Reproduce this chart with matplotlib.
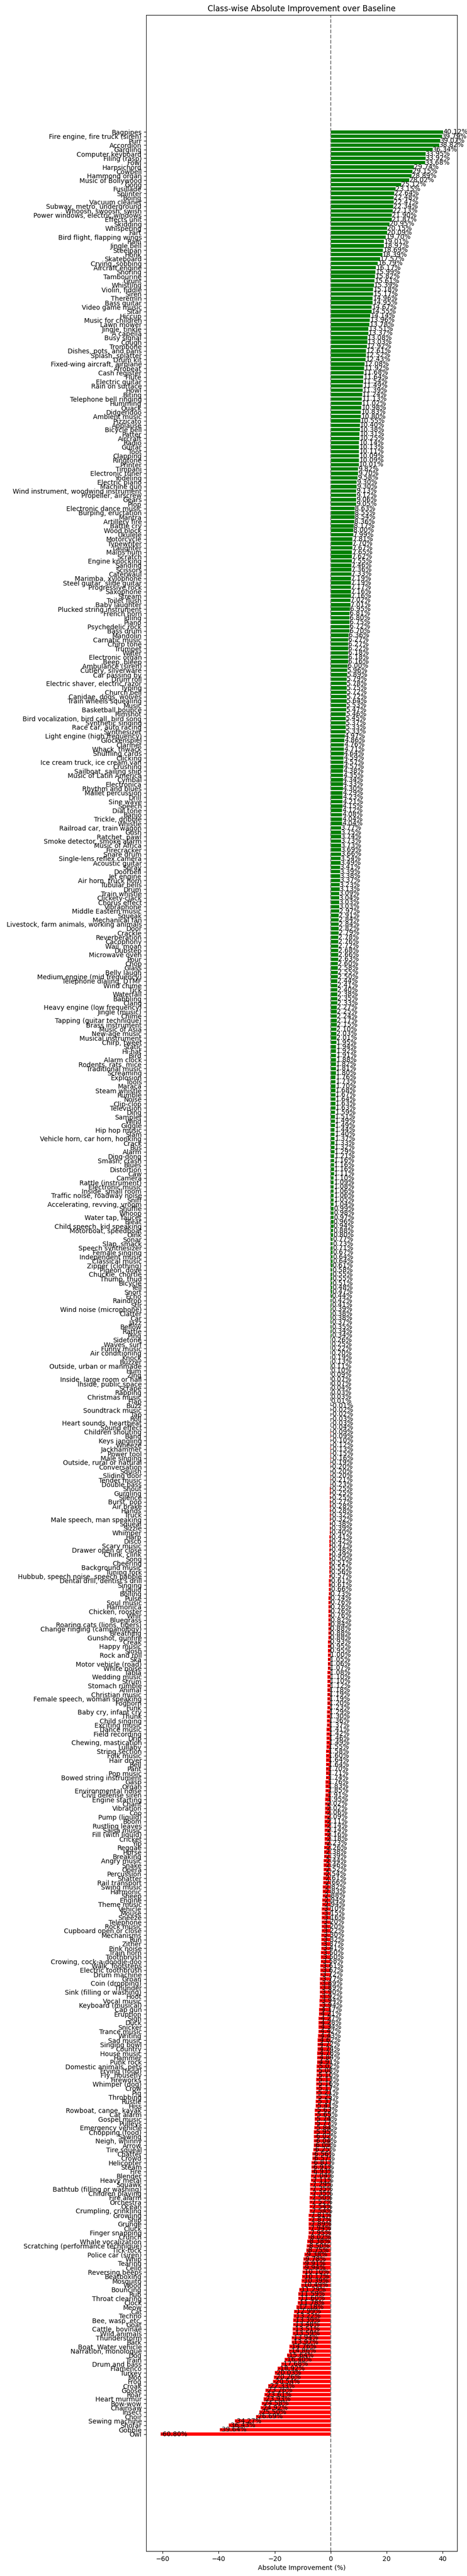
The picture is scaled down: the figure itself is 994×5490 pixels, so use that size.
import matplotlib
matplotlib.use("Agg")
import matplotlib.pyplot as plt
import numpy as np

# class names, sorted by improvement (largest first)
classes = [
    "Bagpipes", "Fire engine, fire truck (siren)", "Purr", "Accordion", "Gargling",
    "Computer keyboard", "Filing (rasp)", "Fowl", "Harpsichord", "Cowbell",
    "Hammond organ", "Music of Bollywood", "Gong", "Fusillade", "Splinter",
    "Boing", "Vacuum cleaner", "Subway, metro, underground", "Whoosh, swoosh, swish",
    "Power windows, electric windows", "Effects unit", "Skidding", "Whispering", "Fart",
    "Bird flight, flapping wings", "Rain", "Jingle bell", "Steelpan", "Honk",
    "Skateboard", "Crying, sobbing", "Aircraft engine", "Snoring", "Tambourine",
    "Grunt", "Whistling", "Violin, fiddle", "Siren", "Theremin", "Bass guitar",
    "Video game music", "Sitar", "Hiccup", "Music for children", "Lawn mower",
    "Jingle, tinkle", "A capella", "Busy signal", "Cough", "Trombone",
    "Dishes, pots, and pans", "Splash, splatter", "Drum kit",
    "Fixed-wing aircraft, airplane", "Afrobeat", "Cash register", "Flute",
    "Electric guitar", "Rain on surface", "Howl", "Biting", "Telephone bell ringing",
    "Humming", "Quack", "Didgeridoo", "Ambient music", "Pizzicato", "Applause",
    "Bicycle bell", "Patter", "Aircraft", "Radio", "Guitar", "Toot", "Clapping",
    "Ringtone", "Printer", "Timpani", "Electronic tuner", "Yodeling", "Electric piano",
    "Machine gun", "Wind instrument, woodwind instrument", "Propeller, airscrew",
    "Gears", "Plop", "Electronic dance music", "Burping, eructation", "Mantra",
    "Artillery fire", "Battle cry", "Wood block", "Ukulele", "Motorcycle",
    "Typewriter", "Laughter", "Mains hum", "Scratch", "Engine knocking", "Sanding",
    "Scissors", "Caterwaul", "Marimba, xylophone", "Steel guitar, slide guitar",
    "Progressive rock", "Saxophone", "Stream", "Toilet flush", "Baby laughter",
    "Plucked string instrument", "French horn", "Idling", "Piano", "Psychedelic rock",
    "Bass drum", "Mandolin", "Carnatic music", "Chirp tone", "Trumpet", "Water",
    "Electronic organ", "Beep, bleep", "Ambulance (siren)", "Cutlery, silverware",
    "Car passing by", "Drum roll", "Electric shaver, electric razor", "Typing",
    "Church bell", "Canidae, dogs, wolves", "Train wheels squealing", "Music",
    "Basketball bounce", "Rimshot", "Bird vocalization, bird call, bird song",
    "Synthetic singing", "Race car, auto racing", "Synthesizer",
    "Light engine (high frequency)", "Glockenspiel", "Clarinet", "Whack, thwack",
    "Shuffling cards", "Clicking", "Ice cream truck, ice cream van", "Crushing",
    "Sailboat, sailing ship", "Music of Latin America", "Cymbal", "Electronica",
    "Rhythm and blues", "Mallet percussion", "Drill", "Sine wave", "Speech",
    "Dial tone", "Banjo", "Trickle, dribble", "Whistle", "Railroad car, train wagon",
    "Gush", "Ratchet, pawl", "Smoke detector, smoke alarm", "Music of Africa",
    "Firecracker", "Snare drum", "Single-lens reflex camera", "Acoustic guitar",
    "Spray", "Doorbell", "Jet engine", "Air horn, truck horn", "Tubular bells", "Drum",
    "Train whistle", "Clickety-clack", "Chorus effect", "Vibraphone",
    "Middle Eastern music", "Squeak", "Mechanical fan",
    "Livestock, farm animals, working animals", "Door", "Crackle", "Reverberation",
    "Cacophony", "Wail, moan", "Dubstep", "Microwave oven", "Pour", "Chop", "Glass",
    "Belly laugh", "Medium engine (mid frequency)", "Telephone dialing, DTMF",
    "Wind chime", "Tick", "Waterfall", "Babbling", "Clang",
    "Heavy engine (low frequency)", "Jingle (music)", "Chime",
    "Tapping (guitar technique)", "Brass instrument", "Music of Asia",
    "New-age music", "Musical instrument", "Chirp, tweet", "Static", "Hi-hat", "Bird",
    "Alarm clock", "Rodents, rats, mice", "Traditional music", "Screaming",
    "Explosion", "Tools", "Maraca", "Steam whistle", "Rumble", "Noise", "Clip-clop",
    "Television", "Ding", "Sampler", "Wind", "Giggle", "Hip hop music", "Slam",
    "Vehicle horn, car horn, honking", "Crack", "Bus", "Alarm", "Ding-dong",
    "Smash, crash", "Blues", "Distortion", "Caw", "Camera", "Rattle (instrument)",
    "Electronic music", "Inside, small room", "Traffic noise, roadway noise", "Sniff",
    "Accelerating, revving, vroom", "Shuffle", "Whoop", "Water tap, faucet", "Bleat",
    "Child speech, kid speaking", "Motorboat, speedboat", "Oink", "Sonar",
    "Slap, smack", "Speech synthesizer", "Female singing", "Independent music",
    "Classical music", "Zipper (clothing)", "Pigeon, dove", "Chuckle, chortle",
    "Thump, thud", "Bicycle", "Yell", "Snort", "Echo", "Raindrop", "Stir",
    "Wind noise (microphone)", "Clatter", "Car", "Jazz", "Bellow", "Rattle", "Ping",
    "Sidetone", "Waves, surf", "Funny music", "Air conditioning", "Knock", "Buzzer",
    "Outside, urban or manmade", "Hum", "Zing", "Inside, large room or hall",
    "Inside, public space", "Scrape", "Rapping", "Christmas music", "Flap", "Buzz",
    "Soundtrack music", "Tap", "Roll", "Heart sounds, heartbeat", "Sound effect",
    "Children shouting", "Bang", "Keys jangling", "Wheeze", "Jackhammer",
    "Power tool", "Male singing", "Outside, rural or natural", "Conversation",
    "Squish", "Sliding door", "Tender music", "Double bass", "Shout", "Gurgling",
    "Silence", "Burst, pop", "Air brake", "Hands", "Truck",
    "Male speech, man speaking", "Squeal", "Sizzle", "Whimper", "Harp", "Disco",
    "Scary music", "Drawer open or close", "Chink, clink", "Song", "Cheering",
    "Background music", "Tuning fork", "Hubbub, speech noise, speech babble",
    "Dental drill, dentist's drill", "Singing", "Liquid", "Boiling", "Pulse",
    "Soul music", "Harmonica", "Chicken, rooster", "Whir", "Bluegrass",
    "Roaring cats (lions, tigers)", "Change ringing (campanology)", "Breathing",
    "Gunshot, gunfire", "Creak", "Happy music", "Slosh", "Rock and roll", "Ska",
    "Motor vehicle (road)", "White noise", "Tabla", "Wedding music", "Strum",
    "Stomach rumble", "Animal", "Christian music", "Female speech, woman speaking",
    "Foghorn", "Funk", "Baby cry, infant cry", "Thunk", "Child singing",
    "Exciting music", "Dance music", "Field recording", "Drip",
    "Chewing, mastication", "Lullaby", "String section", "Folk music", "Hair dryer",
    "Bell", "Pant", "Pop music", "Bowed string instrument", "Gasp", "Organ",
    "Environmental noise", "Civil defense siren", "Engine starting", "Chant",
    "Vibration", "Coo", "Pump (liquid)", "Boom", "Rustling leaves", "Salsa music",
    "Fill (with liquid)", "Cricket", "Yip", "Reggae", "Horse", "Breaking",
    "Angry music", "Snake", "Opera", "Percussion", "Shatter", "Rail transport",
    "Swing music", "Harmonic", "Sheep", "Engine", "Theme music", "Vehicle", "Mouse",
    "Sneeze", "Telephone", "Rock music", "Cupboard open or close", "Mechanisms",
    "Run", "Zither", "Pink noise", "Train horn", "Toothbrush",
    "Crowing, cock-a-doodle-doo", "Walk, footsteps", "Electric toothbrush",
    "Drum machine", "Groan", "Coin (dropping)", "Thunder", "Sink (filling or washing)",
    "Hoot", "Vocal music", "Keyboard (musical)", "Cap gun", "Eruption", "Sigh", "Duck",
    "Snicker", "Trance music", "Writing", "Sad music", "Singing bowl", "Country",
    "House music", "Hammer", "Punk rock", "Domestic animals, pets", "Frying (food)",
    "Fly, housefly", "Fireworks", "Whimper (dog)", "Crow", "Pig", "Throbbing",
    "Rustle", "Hiss", "Rowboat, canoe, kayak", "Car alarm", "Gospel music", "Pulleys",
    "Emergency vehicle", "Chopping (food)", "Sawing", "Neigh, whinny", "Arrow",
    "Tire squeal", "Chatter", "Crowd", "Helicopter", "Steam", "Fire", "Blender",
    "Heavy metal", "Squawk", "Bathtub (filling or washing)", "Children playing",
    "Fire alarm", "Orchestra", "Ocean", "Crumpling, crinkling", "Growling", "Ship",
    "Grunge", "Cluck", "Finger snapping", "Crunch", "Whale vocalization",
    "Scratching (performance technique)", "Tick-tock", "Police car (siren)", "Whip",
    "Tearing", "Cello", "Reversing beeps", "Beatboxing", "Mosquito", "Wood",
    "Bouncing", "Rub", "Throat clearing", "Clock", "Meow", "Cat", "Techno",
    "Bee, wasp, etc.", "Goat", "Cattle, bovinae", "Wild animals", "Thunderstorm",
    "Bark", "Boat, Water vehicle", "Narration, monologue", "Dog", "Train",
    "Drum and bass", "Flamenco", "Turkey", "Moo", "Frog", "Croak", "Goose", "Roar",
    "Heart murmur", "Bow-wow", "Chainsaw", "Insect", "Choir", "Sewing machine",
    "Shofar", "Gobble", "Owl",
]

improvement = [
    40.12, 39.79, 39.07, 38.82, 36.34, 33.95, 33.92, 33.68, 29.74, 29.15,
    28.89, 28.02, 25.12, 23.15, 22.64, 22.48, 22.47, 22.34, 22.13, 21.90,
    21.87, 20.95, 20.15, 20.09, 19.70, 19.01, 18.97, 18.69, 18.39, 17.57,
    16.79, 16.17, 15.99, 15.82, 15.61, 15.39, 15.18, 15.17, 14.96, 14.95,
    14.67, 14.55, 14.14, 13.96, 13.78, 13.51, 13.37, 13.08, 13.03, 12.92,
    12.61, 12.52, 12.43, 12.08, 11.92, 11.68, 11.64, 11.54, 11.49, 11.39,
    11.24, 11.13, 11.02, 10.98, 10.83, 10.80, 10.55, 10.40, 10.38, 10.31,
    10.25, 10.14, 10.13, 10.11, 10.09, 10.09, 10.01, 9.82, 9.70, 9.58,
    9.30, 9.30, 9.13, 9.12, 9.06, 9.05, 8.63, 8.55, 8.54, 8.36,
    8.17, 8.00, 7.99, 7.81, 7.70, 7.67, 7.65, 7.62, 7.55, 7.46,
    7.36, 7.33, 7.19, 7.19, 7.17, 7.16, 7.16, 7.02, 7.01, 6.95,
    6.81, 6.80, 6.75, 6.72, 6.70, 6.36, 6.27, 6.27, 6.22, 6.18,
    6.18, 6.16, 6.00, 5.96, 5.89, 5.79, 5.78, 5.75, 5.72, 5.72,
    5.64, 5.53, 5.47, 5.46, 5.45, 5.37, 5.33, 5.33, 4.97, 4.86,
    4.76, 4.71, 4.64, 4.59, 4.57, 4.57, 4.38, 4.35, 4.34, 4.33,
    4.30, 4.29, 4.23, 4.21, 4.15, 4.12, 4.08, 4.04, 4.04, 3.77,
    3.75, 3.74, 3.73, 3.73, 3.69, 3.66, 3.54, 3.49, 3.41, 3.39,
    3.38, 3.37, 3.23, 3.13, 3.09, 3.04, 3.03, 3.03, 2.97, 2.91,
    2.84, 2.84, 2.82, 2.79, 2.78, 2.76, 2.72, 2.68, 2.66, 2.63,
    2.60, 2.58, 2.55, 2.50, 2.44, 2.41, 2.40, 2.38, 2.35, 2.33,
    2.27, 2.25, 2.24, 2.17, 2.15, 2.10, 2.03, 2.01, 1.95, 1.94,
    1.92, 1.91, 1.88, 1.82, 1.81, 1.80, 1.76, 1.73, 1.70, 1.68,
    1.67, 1.64, 1.63, 1.63, 1.59, 1.51, 1.49, 1.49, 1.44, 1.40,
    1.37, 1.33, 1.32, 1.29, 1.21, 1.16, 1.16, 1.16, 1.11, 1.10,
    1.09, 1.08, 1.06, 1.06, 1.05, 1.04, 0.99, 0.98, 0.97, 0.96,
    0.94, 0.88, 0.80, 0.77, 0.73, 0.71, 0.67, 0.64, 0.64, 0.61,
    0.58, 0.55, 0.55, 0.51, 0.48, 0.47, 0.44, 0.42, 0.41, 0.39,
    0.38, 0.38, 0.37, 0.35, 0.34, 0.34, 0.26, 0.25, 0.22, 0.20,
    0.19, 0.13, 0.11, 0.10, 0.09, 0.07, 0.07, 0.04, 0.03, 0.03,
    0.01, -0.01, -0.02, -0.02, -0.03, -0.03, -0.04, -0.09, -0.09, -0.10,
    -0.12, -0.13, -0.15, -0.16, -0.19, -0.20, -0.20, -0.20, -0.21, -0.23,
    -0.25, -0.25, -0.25, -0.27, -0.28, -0.28, -0.32, -0.32, -0.38, -0.39,
    -0.40, -0.41, -0.42, -0.47, -0.48, -0.49, -0.50, -0.51, -0.55, -0.56,
    -0.57, -0.61, -0.61, -0.66, -0.73, -0.74, -0.76, -0.76, -0.76, -0.76,
    -0.82, -0.84, -0.88, -0.88, -0.88, -0.93, -0.95, -0.95, -1.00, -1.05,
    -1.06, -1.07, -1.08, -1.10, -1.10, -1.12, -1.18, -1.19, -1.19, -1.20,
    -1.23, -1.29, -1.30, -1.36, -1.37, -1.41, -1.42, -1.46, -1.49, -1.55,
    -1.58, -1.60, -1.64, -1.64, -1.70, -1.71, -1.74, -1.76, -1.83, -1.85,
    -1.91, -1.95, -2.02, -2.02, -2.06, -2.09, -2.11, -2.14, -2.14, -2.16,
    -2.18, -2.23, -2.26, -2.38, -2.39, -2.44, -2.46, -2.52, -2.54, -2.61,
    -2.66, -2.82, -2.83, -2.88, -2.94, -2.94, -3.10, -3.15, -3.16, -3.20,
    -3.20, -3.22, -3.30, -3.32, -3.37, -3.41, -3.50, -3.50, -3.58, -3.61,
    -3.67, -3.72, -3.77, -3.89, -3.89, -3.90, -3.92, -3.94, -3.94, -4.17,
    -4.21, -4.27, -4.28, -4.34, -4.42, -4.43, -4.62, -4.72, -4.74, -4.78,
    -4.84, -4.91, -5.02, -5.08, -5.10, -5.13, -5.16, -5.17, -5.21, -5.25,
    -5.37, -5.41, -5.63, -5.65, -5.74, -5.77, -5.84, -5.95, -6.02, -6.04,
    -6.09, -6.25, -6.56, -6.57, -6.81, -6.91, -6.93, -7.04, -7.11, -7.29,
    -7.35, -7.35, -7.50, -7.52, -7.54, -7.54, -7.81, -7.87, -7.89, -7.94,
    -7.95, -8.02, -8.38, -8.50, -8.75, -9.38, -9.78, -9.91, -9.94, -10.10,
    -10.17, -10.39, -10.49, -11.29, -11.59, -11.60, -11.78, -12.18, -12.99, -13.22,
    -13.39, -13.48, -13.51, -13.59, -13.94, -13.97, -14.76, -14.86, -15.64, -16.40,
    -17.68, -18.92, -20.03, -20.26, -20.54, -22.33, -23.26, -23.61, -23.93, -24.58,
    -24.92, -25.50, -26.69, -34.27, -36.43, -39.64, -60.80,
]

values = np.array(improvement)
ypos = np.arange(len(classes))
colors = ["green" if v > 0 else "red" for v in values]

fig = plt.figure(figsize=(9.95, 54.9), dpi=100)
ax = fig.add_axes([0.313, 0.00965, 0.665, 0.98452])

ax.barh(ypos, values, color=colors)
ax.axvline(0, color="gray", linestyle="--")

for y, v in zip(ypos, values):
    ax.text(v, y, f"{v:.2f}%", va="center", fontsize=10)

ax.set_yticks(ypos)
ax.set_yticklabels(classes)
ax.invert_yaxis()
ax.set_xlabel("Absolute Improvement (%)")
ax.set_title("Class-wise Absolute Improvement over Baseline")

fig.savefig("out.png", dpi=100)
